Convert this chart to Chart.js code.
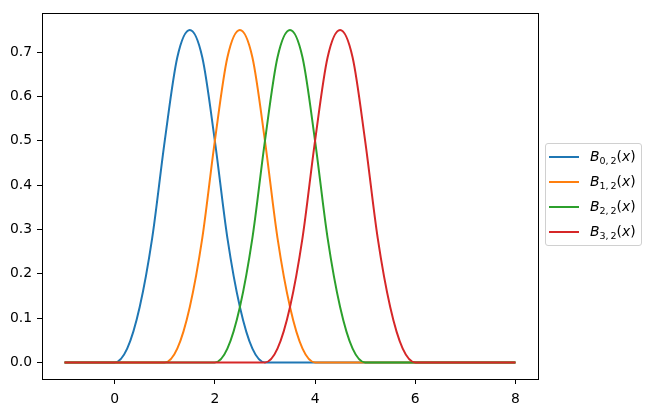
<!DOCTYPE html>
<html>
<head>
<meta charset="utf-8">
<script src="https://cdn.jsdelivr.net/npm/chart.js@4"></script>
<style>
    body { margin: 0; background: #fff; }
    #wrap { position: relative; width: 651px; height: 413px; font-family: "DejaVu Sans", sans-serif; }
    #chart { position: absolute; left: 0; top: 0; }
    #legend {
        position: absolute; left: 545px; top: 143px; width: 95px; height: 101px;
        border: 1px solid #d0d0d0; border-radius: 3px; background: rgba(255,255,255,0.8);
    }
    .item { position: absolute; left: 0; height: 20px; width: 95px; }
    .item .swatch { position: absolute; left: 3px; width: 30px; height: 2px; top: 10px; }
    .item .label { position: absolute; left: 44px; top: 0; font-size: 13.9px; line-height: 20px; color: #000; white-space: nowrap; }
    .item sub { font-size: 9.5px; vertical-align: -3px; line-height: 0; }
</style>
</head>
<body>
<div id="wrap">
    <canvas id="chart" width="651" height="413"></canvas>
    <div id="legend"></div>
</div>
<script>
// Data
const xValues = [-1, -0.75, -0.5, -0.25, 0, 0.25, 0.5, 0.75, 1, 1.25, 1.5, 1.75, 2, 2.25, 2.5, 2.75,
    3, 3.25, 3.5, 3.75, 4, 4.25, 4.5, 4.75, 5, 5.25, 5.5, 5.75, 6, 6.25, 6.5, 6.75, 7, 7.25, 7.5, 7.75, 8];

const b02 = [0, 0, 0, 0, 0, 0.031, 0.125, 0.281, 0.5, 0.688, 0.75, 0.688, 0.5, 0.281, 0.125, 0.031,
    0, 0, 0, 0, 0, 0, 0, 0, 0, 0, 0, 0, 0, 0, 0, 0, 0, 0, 0, 0, 0];
const b12 = [0, 0, 0, 0, 0, 0, 0, 0, 0, 0.031, 0.125, 0.281, 0.5, 0.688, 0.75, 0.688,
    0.5, 0.281, 0.125, 0.031, 0, 0, 0, 0, 0, 0, 0, 0, 0, 0, 0, 0, 0, 0, 0, 0, 0];
const b22 = [0, 0, 0, 0, 0, 0, 0, 0, 0, 0, 0, 0, 0, 0.031, 0.125, 0.281,
    0.5, 0.688, 0.75, 0.688, 0.5, 0.281, 0.125, 0.031, 0, 0, 0, 0, 0, 0, 0, 0, 0, 0, 0, 0, 0];
const b32 = [0, 0, 0, 0, 0, 0, 0, 0, 0, 0, 0, 0, 0, 0, 0, 0,
    0, 0.031, 0.125, 0.281, 0.5, 0.688, 0.75, 0.688, 0.5, 0.281, 0.125, 0.031, 0, 0, 0, 0, 0, 0, 0, 0, 0];

const seriesIdx = ['0', '1', '2', '3'];
const seriesData = [b02, b12, b22, b32];
const colors = ['#1f77b4', '#ff7f0e', '#2ca02c', '#d62728'];

const xTicks = [0, 2, 4, 6, 8];
const yTicks = [0, 0.1, 0.2, 0.3, 0.4, 0.5, 0.6, 0.7];

// Legend (html so the subscripts stay real text)
const legend = document.getElementById('legend');
seriesIdx.forEach((s, i) => {
    legend.innerHTML += `
        <div class="item" style="top: ${2 + i * 25}px">
            <div class="swatch" style="background: ${colors[i]}"></div>
            <div class="label"><i>B</i><sub>${s},&thinsp;2</sub>(<i>x</i>)</div>
        </div>`;
});

// Frame round the plot area
const framePlugin = {
    id: 'frame',
    afterDraw(chart) {
        const { ctx, chartArea: a } = chart;
        ctx.save();
        ctx.strokeStyle = '#000';
        ctx.lineWidth = 1;
        ctx.strokeRect(Math.round(a.left) + 0.5, Math.round(a.top) + 0.5,
            Math.round(a.right - a.left), Math.round(a.bottom - a.top));
        ctx.restore();
    }
};

const tickFont = { family: 'DejaVu Sans', size: 13.9 };

new Chart(document.getElementById('chart'), {
    type: 'line',
    data: {
        datasets: seriesData.map((d, i) => ({
            label: `B${seriesIdx[i]},2(x)`,
            data: xValues.map((x, k) => ({ x: x, y: d[k] })),
            borderColor: colors[i],
            borderWidth: 2,
            pointRadius: 0,
            cubicInterpolationMode: 'monotone',
            order: seriesData.length - i
        }))
    },
    options: {
        responsive: false,
        animation: false,
        layout: { padding: { left: 0, right: 113, top: 10.6, bottom: 0 } },
        plugins: { legend: { display: false }, tooltip: { enabled: false } },
        scales: {
            x: {
                type: 'linear',
                min: -1.45,
                max: 8.45,
                afterBuildTicks: axis => { axis.ticks = xTicks.map(v => ({ value: v })); },
                afterFit: scale => { scale.height = 34; },
                grid: { drawOnChartArea: false, drawTicks: true, tickLength: 5, color: '#000' },
                border: { display: false },
                ticks: { color: '#000', font: tickFont, padding: 7, maxRotation: 0 }
            },
            y: {
                min: -0.0375,
                max: 0.7875,
                afterBuildTicks: axis => { axis.ticks = yTicks.map(v => ({ value: v })); },
                afterFit: scale => { scale.width = 42; },
                grid: { drawOnChartArea: false, drawTicks: true, tickLength: 5, color: '#000' },
                border: { display: false },
                ticks: { color: '#000', font: tickFont, padding: 5, callback: v => v.toFixed(1) }
            }
        }
    },
    plugins: [framePlugin]
});
</script>
</body>
</html>
